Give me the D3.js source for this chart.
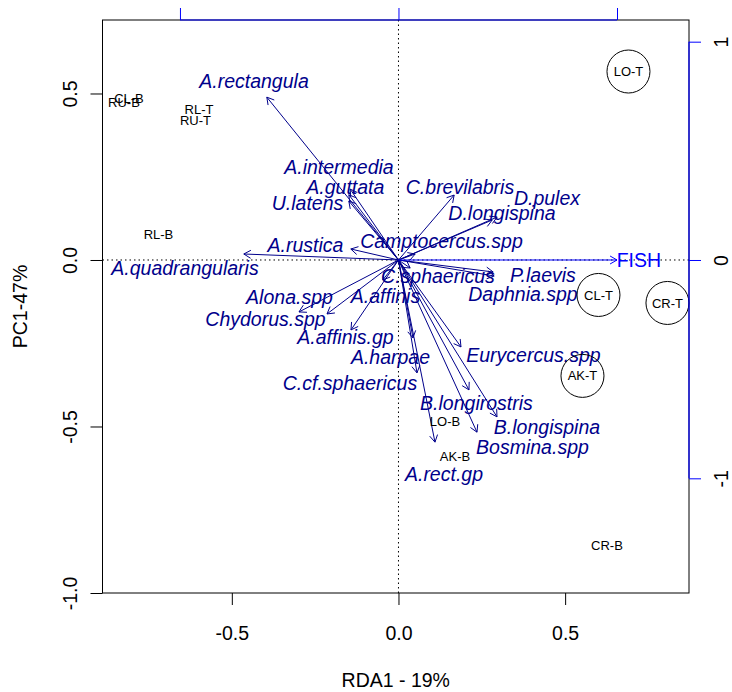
<!DOCTYPE html>
<html><head><meta charset="utf-8">
<script src="https://cdn.jsdelivr.net/npm/d3@7"></script>
<style>body{margin:0;background:#fff}svg{display:block}</style>
</head><body>
<svg id="chart" width="732" height="692"></svg>
<script>
// ---------- data ----------
const species = ["A.rectangula","A.intermedia","A.guttata","U.latens","A.rustica","A.quadrangularis",
  "C.brevilabris","D.pulex","D.longispina","Camptocercus.spp","C.sphaericus","P.laevis","Daphnia.spp",
  "Alona.spp","A.affinis","Chydorus.spp","A.affinis.gp","A.harpae","Eurycercus.spp","C.cf.sphaericus",
  "B.longirostris","B.longispina","Bosmina.spp","A.rect.gp"];
// arrow tips (RDA1, PC1)
const specX = [-0.395,-0.145,-0.149,-0.149,-0.143,-0.464, 0.167,0.296,0.281,0.050,0.035,0.284,0.287,
  -0.2145,-0.047,-0.2985,-0.1425,0.0435,0.1875,0.0555,0.2115,0.2955,0.2355,0.1095];
const specY = [0.489,0.213,0.196,0.177,0.033,0.018, 0.195,0.129,0.120,0.018,-0.024,-0.036,-0.048,
  -0.162,-0.060,-0.156,-0.210,-0.234,-0.261,-0.339,-0.390,-0.471,-0.517,-0.547];
// label centres (RDA1, PC1)
const specLabX = [-0.4335,-0.1785,-0.1595,-0.2730,-0.2790,-0.6405, 0.1845,0.4455,0.3105,0.1290,0.1185,0.4335,0.3735,
  -0.3270,-0.0390,-0.3990,-0.1590,-0.0240,0.4050,-0.1455,0.2340,0.4455,0.4020,0.1365];
const specLabY = [0.5375,0.279,0.219,0.170,0.045,-0.024, 0.219,0.186,0.141,0.057,-0.048,-0.045,-0.102,
  -0.111,-0.108,-0.177,-0.231,-0.291,-0.285,-0.369,-0.429,-0.501,-0.561,-0.643];

const sites = ["CL-B","RU-B","RL-T","RU-T","RL-B","LO-B","AK-B","CR-B","LO-T","CL-T","CR-T","AK-T"];
const siteX = [-0.8085,-0.8235,-0.5985,-0.6090,-0.7200,0.1395,0.1695,0.6255,0.6900,0.6000,0.8070,0.5520];
const siteY = [0.486,0.474,0.453,0.420,0.078,-0.4835,-0.5886,-0.856,0.566,-0.105,-0.129,-0.348];
const siteCircled = [false,false,false,false,false,false,false,false,true,true,true,true];

const envNames = ["FISH"];
const envX = [1.0];   // biplot (secondary axis) units
const envY = [0.0];

const xTicks = [-0.5, 0, 0.5];
const yTicks = [-1, -0.5, 0, 0.5];
const biTicks = [-1, 0, 1];
const xTitle = "RDA1 - 19%";
const yTitle = "PC1-47%";

// ---------- layout ----------
const L = 102.5, R = 689, T = 20, B = 593;
const xDom = [-0.888, 0.8716], yDom = [-1.0, 0.7207];
const biMul = 0.6556;  // ratio of biplot axis units to primary units
const x = d3.scaleLinear().domain(xDom).range([L, R]);
const y = d3.scaleLinear().domain(yDom).range([B, T]);
const x2 = d3.scaleLinear().domain(xDom.map(d => d / biMul)).range([L, R]);
const y2 = d3.scaleLinear().domain(yDom.map(d => d / biMul)).range([B, T]);

const FONT = "'Liberation Sans', Arial, Helvetica, sans-serif";
const SPEC = "#00008B", ENV = "#0000FF";
const svg = d3.select("#chart").style("font-family", FONT);

// box
svg.append("rect").attr("x", L).attr("y", T).attr("width", R - L).attr("height", B - T)
  .attr("fill", "none").attr("stroke", "#000").attr("stroke-width", 1);

// dotted zero lines
svg.append("line").attr("x1", L).attr("x2", R).attr("y1", y(0)).attr("y2", y(0))
  .attr("stroke", "#000").attr("stroke-dasharray", "1.5,3");
svg.append("line").attr("x1", x(0)).attr("x2", x(0)).attr("y1", T).attr("y2", B)
  .attr("stroke", "#000").attr("stroke-dasharray", "1.5,3");

function arrow(g, x0, y0, x1, y1, col) {
  const a = Math.atan2(y1 - y0, x1 - x0), len = 8, h = Math.PI / 6;
  g.append("line").attr("x1", x0).attr("y1", y0).attr("x2", x1).attr("y2", y1)
    .attr("stroke", col).attr("stroke-width", 1);
  const p1 = [x1 - len * Math.cos(a - h), y1 - len * Math.sin(a - h)];
  const p2 = [x1 - len * Math.cos(a + h), y1 - len * Math.sin(a + h)];
  g.append("path").attr("d", `M${p1[0]},${p1[1]}L${x1},${y1}L${p2[0]},${p2[1]}`)
    .attr("fill", "none").attr("stroke", col).attr("stroke-width", 1);
}

// species arrows
const gA = svg.append("g");
species.forEach((s, i) => arrow(gA, x(0), y(0), x(specX[i]), y(specY[i]), SPEC));
// env arrows
envNames.forEach((s, i) => arrow(gA, x2(0), y2(0), x2(envX[i]), y2(envY[i]), ENV));

// species labels
svg.append("g").selectAll("text").data(species).join("text")
  .attr("x", (d, i) => x(specLabX[i])).attr("y", (d, i) => y(specLabY[i]))
  .attr("dy", "0.35em").attr("text-anchor", "middle")
  .attr("font-size", "19.5px").attr("font-style", "italic").attr("fill", SPEC)
  .text(d => d);
// env labels
svg.append("g").selectAll("text").data(envNames).join("text")
  .attr("x", (d, i) => x2(envX[i] * 1.1)).attr("y", (d, i) => y2(envY[i] * 1.1))
  .attr("dy", "0.35em").attr("text-anchor", "middle")
  .attr("font-size", "19.5px").attr("fill", ENV).text(d => d);

// sites
const gS = svg.append("g");
gS.selectAll("circle").data(sites.filter((d, i) => siteCircled[i])).join("circle")
  .attr("cx", d => x(siteX[sites.indexOf(d)])).attr("cy", d => y(siteY[sites.indexOf(d)]))
  .attr("r", 21.5).attr("fill", "none").attr("stroke", "#000").attr("stroke-width", 1);
gS.selectAll("text").data(sites).join("text")
  .attr("x", (d, i) => x(siteX[i])).attr("y", (d, i) => y(siteY[i]))
  .attr("dy", "0.35em").attr("text-anchor", "middle")
  .attr("font-size", "13px").attr("fill", "#000").text(d => d);

// ---------- axes ----------
const fmt = d => d.toFixed(1);
const ax = svg.append("g").attr("transform", `translate(0,${B})`)
  .call(d3.axisBottom(x).tickValues(xTicks).tickFormat(fmt).tickSize(12).tickSizeOuter(0));
ax.select(".domain").remove();
ax.selectAll("line").attr("stroke", "#000");
ax.selectAll("text").attr("y", 40).attr("dy", "0.35em").attr("font-size", "19.5px")
  .attr("font-family", FONT).attr("fill", "#000");

const ay = svg.append("g").attr("transform", `translate(${L},0)`)
  .call(d3.axisLeft(y).tickValues(yTicks).tickFormat(fmt).tickSize(12).tickSizeOuter(0));
ay.select(".domain").remove();
ay.selectAll("line").attr("stroke", "#000");
ay.selectAll("text").attr("transform", "rotate(-90)").attr("x", 0).attr("y", -32.5)
  .attr("dy", "0.35em").attr("text-anchor", "middle").attr("font-size", "19.5px")
  .attr("font-family", FONT).attr("fill", "#000");

// top (biplot) axis, blue
const at = svg.append("g").attr("transform", `translate(0,${T})`)
  .call(d3.axisTop(x2).tickValues(biTicks).tickFormat("").tickSize(12).tickSizeOuter(0));
at.select(".domain").remove();
at.selectAll("line").attr("stroke", ENV);
svg.append("line").attr("x1", x2(biTicks[0])).attr("x2", x2(biTicks[biTicks.length - 1]))
  .attr("y1", T).attr("y2", T).attr("stroke", ENV).attr("stroke-width", 1.2);

// right (biplot) axis, blue
const ar = svg.append("g").attr("transform", `translate(${R},0)`)
  .call(d3.axisRight(y2).tickValues(biTicks).tickFormat(d3.format("d")).tickSize(12).tickSizeOuter(0));
ar.select(".domain").remove();
ar.selectAll("line").attr("stroke", ENV);
ar.selectAll("text").text(d => String(d)).attr("transform", "rotate(-90)").attr("x", 0).attr("y", 32)
  .attr("dy", "0.35em").attr("text-anchor", "middle").attr("font-size", "19.5px")
  .attr("font-family", FONT).attr("fill", "#000");
svg.append("line").attr("x1", R).attr("x2", R)
  .attr("y1", y2(biTicks[biTicks.length - 1])).attr("y2", y2(biTicks[0]))
  .attr("stroke", ENV).attr("stroke-width", 1.2);

// titles
svg.append("text").attr("x", (L + R) / 2).attr("y", 680).attr("dy", "0.35em")
  .attr("text-anchor", "middle").attr("font-size", "19.5px").text(xTitle);
svg.append("text").attr("transform", `translate(20,${(T + B) / 2}) rotate(-90)`)
  .attr("dy", "0.35em").attr("text-anchor", "middle").attr("font-size", "19.5px").text(yTitle);
</script>
</body></html>
